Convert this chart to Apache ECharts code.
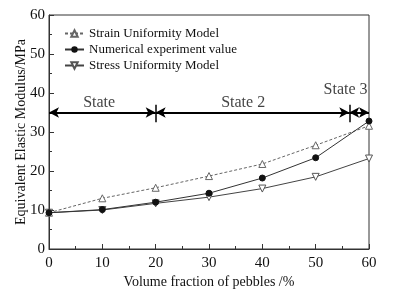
<!DOCTYPE html>
<html><head><meta charset="utf-8">
<script src="https://cdn.jsdelivr.net/npm/echarts@6/dist/echarts.min.js"></script>
<style>html,body{margin:0;padding:0;background:#fff}#c{width:396px;height:294px}</style>
</head><body><div id="c"></div>
<script>
var xValues = [0, 10, 20, 30, 40, 50, 60];
var strainModel = [9.3, 13.0, 15.7, 18.7, 21.8, 26.6, 31.6];
var numericalValue = [9.3, 10.1, 12.0, 14.3, 18.2, 23.4, 32.8];
var stressModel = [9.3, 10.0, 11.7, 13.3, 15.5, 18.5, 23.2];
var seriesNames = ['Strain Uniformity Model', 'Numerical experiment value', 'Stress Uniformity Model'];
var stateLevel = 35;
var stateBounds = [0, 20, 56.3, 60];
var stateLabels = ['State', 'State 2', 'State 3'];
var stateLabelX = [9.4, 36.4, 55.6];
var stateLabelY = [37.6, 37.6, 40.7];

var FONT = '"Liberation Serif", "DejaVu Serif", serif';
var chart = echarts.init(document.getElementById('c'), null, {renderer: 'canvas'});

function pairs(ys) { return xValues.map(function (x, i) { return [x, ys[i]]; }); }

var arrowLines = [];
for (var i = 0; i < stateBounds.length - 1; i++) {
  arrowLines.push([{coord: [stateBounds[i], stateLevel]}, {coord: [stateBounds[i + 1], stateLevel]}]);
}
var tickLines = [];
[1, 2].forEach(function (k) {
  tickLines.push([{coord: [stateBounds[k], stateLevel - 2.5]}, {coord: [stateBounds[k], stateLevel + 2]}]);
});

var option = {
  animation: false,
  backgroundColor: '#fff',
  grid: {left: 49, right: 27, top: 15, bottom: 45, show: true, borderColor: '#333', borderWidth: 1, containLabel: false, outerBoundsMode: 'none'},
  legend: {
    left: 59, top: 22, orient: 'vertical', itemGap: 3, itemWidth: 19, itemHeight: 8,
    textStyle: {fontFamily: FONT, fontSize: 13, color: '#111'},
    data: seriesNames
  },
  xAxis: {
    type: 'value', min: 0, max: 60, interval: 10,
    name: 'Volume fraction of pebbles /%', nameLocation: 'middle', nameGap: 26, nameMoveOverlap: false,
    nameTextStyle: {fontFamily: FONT, fontSize: 14, color: '#111'},
    axisLine: {lineStyle: {color: '#333'}},
    axisTick: {inside: true, length: 5, lineStyle: {color: '#333'}},
    minorTick: {show: true, splitNumber: 2, length: 3, lineStyle: {color: '#333'}},
    axisLabel: {fontFamily: FONT, fontSize: 15, color: '#111', margin: 7},
    splitLine: {show: false}
  },
  yAxis: {
    type: 'value', min: 0, max: 60, interval: 10,
    name: 'Equivalent Elastic Modulus/MPa', nameLocation: 'middle', nameGap: 21, nameMoveOverlap: false,
    nameTextStyle: {fontFamily: FONT, fontSize: 14, color: '#111'},
    axisLine: {show: true, lineStyle: {color: '#333'}},
    axisTick: {show: true, inside: true, length: 5, lineStyle: {color: '#333'}},
    minorTick: {show: true, splitNumber: 2, length: 3, lineStyle: {color: '#333'}},
    axisLabel: {fontFamily: FONT, fontSize: 15, color: '#111', margin: 4},
    splitLine: {show: false}
  },
  series: [
    {
      name: seriesNames[0], type: 'line', data: pairs(strainModel),
      symbol: 'triangle', symbolSize: 7,
      lineStyle: {color: '#666', width: 1, type: [3, 2]},
      itemStyle: {color: '#fff', borderColor: '#666', borderWidth: 1},
      color: '#666', z: 3
    },
    {
      name: seriesNames[1], type: 'line', data: pairs(numericalValue),
      symbol: 'circle', symbolSize: 6,
      lineStyle: {color: '#333', width: 1},
      itemStyle: {color: '#111', borderColor: '#111'},
      color: '#111', z: 4
    },
    {
      name: seriesNames[2], type: 'line', data: pairs(stressModel),
      symbol: 'triangle', symbolRotate: 180, symbolSize: 7,
      lineStyle: {color: '#444', width: 1},
      itemStyle: {color: '#fff', borderColor: '#555', borderWidth: 1},
      color: '#555', z: 3,
      markLine: {
        silent: true, symbol: ['arrow', 'arrow'], symbolSize: [8, 10],
        lineStyle: {color: '#000', width: 2, type: 'solid'},
        label: {show: false},
        data: arrowLines
      }
    },
    {
      name: 'ticks', type: 'line', data: [], z: 5,
      markLine: {
        silent: true, symbol: 'none',
        lineStyle: {color: '#000', width: 1.5, type: 'solid'},
        label: {show: false},
        data: tickLines
      }
    },
    {
      name: 'labels', type: 'scatter', symbolSize: 0,
      data: stateLabels.map(function (t, i) { return {value: [stateLabelX[i], stateLabelY[i]], name: t}; }),
      label: {show: true, position: 'inside', formatter: '{b}', fontFamily: FONT, fontSize: 16, color: '#111', align: 'center'},
      silent: true
    }
  ]
};
chart.setOption(option);
</script></body></html>
